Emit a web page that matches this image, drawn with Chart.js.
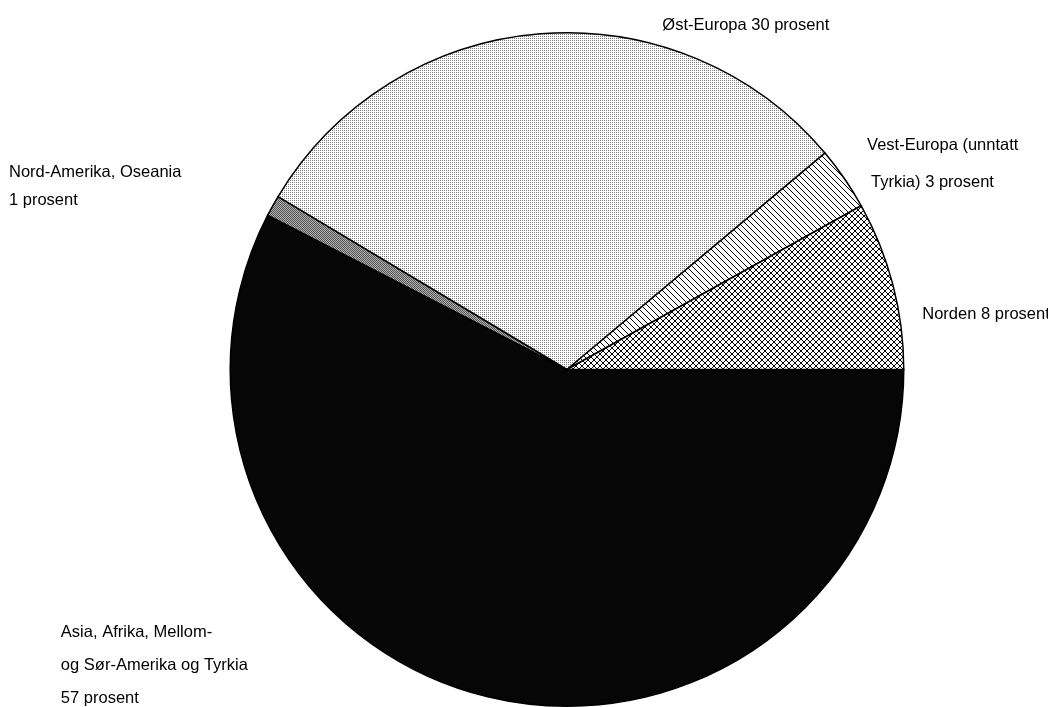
<!DOCTYPE html>
<html>
<head>
<meta charset="utf-8">
<script src="https://cdn.jsdelivr.net/npm/chart.js@4/dist/chart.umd.min.js"></script>
<style>
  html, body { margin: 0; padding: 0; background: #fff; }
  canvas { display: block; }
</style>
</head>
<body>
<canvas id="pie" width="1048" height="707"></canvas>
<script>
// regions, clockwise from 3 o'clock
var regions = ['Asia, Afrika, Mellom- og Sør-Amerika og Tyrkia', 'Nord-Amerika, Oseania', 'Øst-Europa', 'Vest-Europa (unntatt Tyrkia)', 'Norden']
var shares = [57, 1, 30, 3, 8]
var labelLines = [
    ['Asia, Afrika, Mellom-', 'og Sør-Amerika og Tyrkia', '57 prosent'],
    ['Nord-Amerika, Oseania', '1 prosent'],
    ['Øst-Europa 30 prosent'],
    ['Vest-Europa (unntatt', 'Tyrkia) 3 prosent'],
    ['Norden 8 prosent']
]

// label anchors relative to pie centre, in units of radius
var labelPlace = [
    {fx: -1.503, fy: 0.780, gap: 33, indent: [0, 0, 0]},
    {fx: -1.657, fy: -0.584, gap: 28, indent: [0, 0]},
    {fx: 0.283, fy: -1.022, gap: 0, indent: [0]},
    {fx: 0.891, fy: -0.666, gap: 37, indent: [0, 4]},
    {fx: 1.055, fy: -0.163, gap: 0, indent: [0]}
]

function tile(size, draw) {
    var c = document.createElement('canvas')
    c.width = size
    c.height = size
    var g = c.getContext('2d')
    draw(g, size)
    return g.createPattern(c, 'repeat')
}

var ctx = document.getElementById('pie').getContext('2d')

var fills = [
    '#060606',
    tile(2, function (g) {
        g.fillStyle = '#b0b0b0'; g.fillRect(0, 0, 2, 2)
        g.fillStyle = '#555'; g.fillRect(0, 0, 1, 1); g.fillRect(1, 1, 1, 1)
    }),
    tile(2, function (g) {
        g.fillStyle = '#fff'; g.fillRect(0, 0, 2, 2)
        g.fillStyle = '#808080'; g.fillRect(0, 0, 1, 1)
    }),
    tile(6, function (g, s) {
        g.fillStyle = '#fff'; g.fillRect(0, 0, s, s)
        g.strokeStyle = '#000'; g.lineWidth = 1
        g.beginPath(); g.moveTo(-1, -1); g.lineTo(s + 1, s + 1); g.stroke()
    }),
    tile(6, function (g, s) {
        g.fillStyle = '#fff'; g.fillRect(0, 0, s, s)
        g.strokeStyle = '#000'; g.lineWidth = 1
        g.beginPath()
        g.moveTo(-1, -1); g.lineTo(s + 1, s + 1)
        g.moveTo(-1, s + 1); g.lineTo(s + 1, -1)
        g.stroke()
    })
]

var outsideLabels = {
    id: 'outsideLabels',
    afterDraw: function (chart) {
        var arc = chart.getDatasetMeta(0).data[0]
        var cx = arc.x, cy = arc.y, r = arc.outerRadius
        var c = chart.ctx
        c.save()
        c.fillStyle = '#000'
        c.font = '16.5px "Liberation Sans", Arial, sans-serif'
        c.textBaseline = 'middle'
        c.textAlign = 'left'
        labelLines.forEach(function (lines, i) {
            var p = labelPlace[i]
            lines.forEach(function (line, k) {
                c.fillText(line, cx + p.fx * r + p.indent[k], cy + p.fy * r + k * p.gap)
            })
        })
        c.restore()
    }
}

new Chart(ctx, {
    type: 'pie',
    data: {
        labels: regions,
        datasets: [{
            data: shares,
            backgroundColor: fills,
            borderColor: '#000',
            borderWidth: 1.5,
            borderJoinStyle: 'miter'
        }]
    },
    options: {
        responsive: false,
        animation: false,
        rotation: 90,
        layout: { padding: { left: 229, right: 143, top: 32, bottom: 0 } },
        plugins: {
            legend: { display: false },
            tooltip: { enabled: false }
        }
    },
    plugins: [outsideLabels]
})
</script>
</body>
</html>
